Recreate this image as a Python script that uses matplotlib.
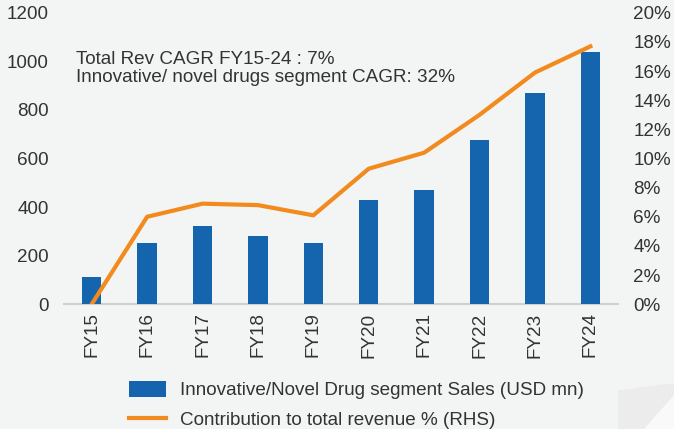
import numpy as np
import matplotlib.pyplot as plt
from matplotlib.patches import Polygon

plt.rcParams['font.family'] = ['Liberation Sans', 'DejaVu Sans']

years = ["FY15", "FY16", "FY17", "FY18", "FY19", "FY20", "FY21", "FY22", "FY23", "FY24"]
sales = [110, 250, 320, 280, 250, 430, 470, 675, 870, 1040]
contrib = [0.0, 6.0, 6.9, 6.8, 6.1, 9.3, 10.4, 13.0, 15.9, 17.7]

BG = "#f3f4f4"
BAR_COL = "#1464ae"
LINE_COL = "#f28a1e"
TEXT_COL = "#333333"
FS = 13.6

fig = plt.figure(figsize=(6.74, 4.29), dpi=100, facecolor=BG)

# subtle background shapes, lower right
fig.patches.append(Polygon([[0.917, 0.09], [1.0, 0.107], [1.0, 0.0], [0.917, 0.0]],
                           closed=True, transform=fig.transFigure,
                           facecolor="#ececec", edgecolor="none", zorder=0))
fig.patches.append(Polygon([[1.0, 0.08], [1.0, 0.0], [0.955, 0.0]],
                           closed=True, transform=fig.transFigure,
                           facecolor="#f9f9f9", edgecolor="none", zorder=0))

ax = fig.add_axes([0.095, 0.291, 0.822, 0.679])
ax.set_facecolor("none")
x = np.arange(len(years))
ax.bar(x, sales, width=0.35, color=BAR_COL, zorder=3,
       label="Innovative/Novel Drug segment Sales (USD mn)")
ax.set_xlim(-0.5, len(years) - 0.5)
ax.set_ylim(0, 1200)
ax.set_yticks(range(0, 1201, 200))
ax.set_xticks(x)
ax.set_xticklabels(years, rotation=90)
ax.tick_params(axis="both", length=0, labelsize=FS, colors=TEXT_COL)
ax.tick_params(axis="y", pad=11)
ax.tick_params(axis="x", pad=6)
for s in ["top", "right", "left"]:
    ax.spines[s].set_visible(False)
ax.spines["bottom"].set_color("#d0d0d0")
ax.spines["bottom"].set_linewidth(1.5)

ax2 = ax.twinx()
ax2.plot(x, contrib, color=LINE_COL, linewidth=3, zorder=4,
         label="Contribution to total revenue % (RHS)")
ax2.set_ylim(0, 20)
ax2.set_yticks(range(0, 21, 2))
ax2.set_yticklabels([f"{v}%" for v in range(0, 21, 2)])
ax2.tick_params(axis="y", length=0, labelsize=FS, colors=TEXT_COL, pad=11)
for s in ax2.spines.values():
    s.set_visible(False)

ax.text(0.022, 0.81, "Total Rev CAGR FY15-24 : 7%\nInnovative/ novel drugs segment CAGR: 32%",
        transform=ax.transAxes, fontsize=FS, color=TEXT_COL, va="center",
        linespacing=1.1)

h1, l1 = ax.get_legend_handles_labels()
h2, l2 = ax2.get_legend_handles_labels()
fig.legend(h1 + h2, l1 + l2, loc="lower left", bbox_to_anchor=(0.166, -0.04),
           frameon=False, fontsize=FS, labelcolor=TEXT_COL,
           handlelength=1.95, handleheight=0.9, labelspacing=0.6, handletextpad=0.75)

fig.savefig("out.png", dpi=100, facecolor=BG)
